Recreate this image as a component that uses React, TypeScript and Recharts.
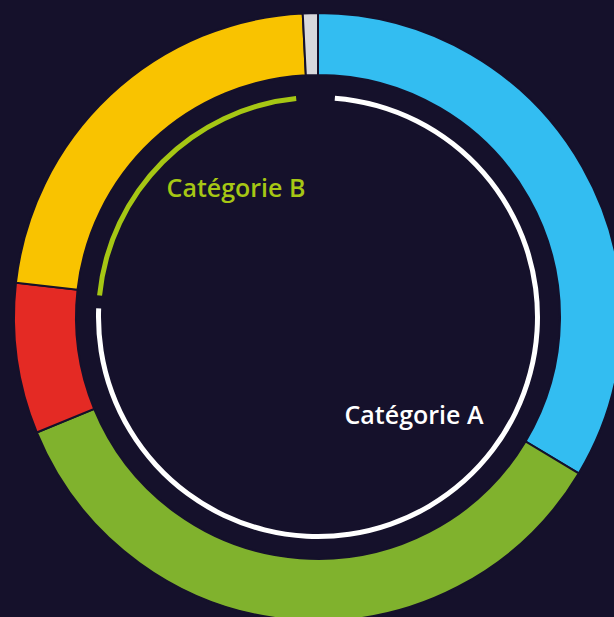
import React from 'react';
import { PieChart, Pie, Cell } from 'recharts';

// outer ring, clockwise from 12 o'clock
const outerNames = ['Bleu', 'Vert', 'Rouge', 'Jaune', 'Gris'];
const outerValues = [33.6, 35.2, 8.0, 22.4, 0.8];
const outerColors = ['#33bdf1', '#80b22d', '#e42a24', '#f9c300', '#d8d8dc'];

// inner thin ring
const categoryNames = ['Catégorie A', 'Catégorie B'];
const categoryValues = [77.3, 22.7];
const categoryColors = ['#ffffff', '#a6c714'];

const outerData = outerNames.map((name, i) => ({ name, value: outerValues[i] }));
const innerData = categoryNames.map((name, i) => ({ name, value: categoryValues[i] }));

const BG = '#15112b';
const labelFont = '"Open Sans", "Noto Sans", sans-serif';

export default function App() {
  return (
    <div
      style={{
        position: 'absolute',
        left: 0,
        top: 0,
        width: 614,
        height: 617,
        overflow: 'hidden',
        background: BG,
      }}
    >
      <PieChart width={614} height={617} margin={{ top: 0, right: 0, bottom: 0, left: 0 }}>
        <Pie
          data={outerData}
          dataKey="value"
          nameKey="name"
          cx={318}
          cy={317}
          innerRadius={242}
          outerRadius={304}
          startAngle={90}
          endAngle={-270}
          stroke={BG}
          strokeWidth={2}
          isAnimationActive={false}
        >
          {outerData.map((d, i) => (
            <Cell key={d.name} fill={outerColors[i]} />
          ))}
        </Pie>
        <Pie
          data={innerData}
          dataKey="value"
          nameKey="name"
          cx={318}
          cy={317}
          innerRadius={217}
          outerRadius={222}
          startAngle={85.6}
          endAngle={-264.3}
          paddingAngle={3.4}
          stroke="none"
          isAnimationActive={false}
        >
          {innerData.map((d, i) => (
            <Cell key={d.name} fill={categoryColors[i]} />
          ))}
        </Pie>
      </PieChart>
      <div
        style={{
          position: 'absolute',
          left: 136,
          top: 170,
          width: 200,
          textAlign: 'center',
          fontFamily: labelFont,
          fontWeight: 600,
          fontSize: 25,
          lineHeight: '34px',
          color: categoryColors[1],
        }}
      >
        {categoryNames[1]}
      </div>
      <div
        style={{
          position: 'absolute',
          left: 314,
          top: 397,
          width: 200,
          textAlign: 'center',
          fontFamily: labelFont,
          fontWeight: 600,
          fontSize: 25,
          lineHeight: '34px',
          color: categoryColors[0],
        }}
      >
        {categoryNames[0]}
      </div>
    </div>
  );
}
